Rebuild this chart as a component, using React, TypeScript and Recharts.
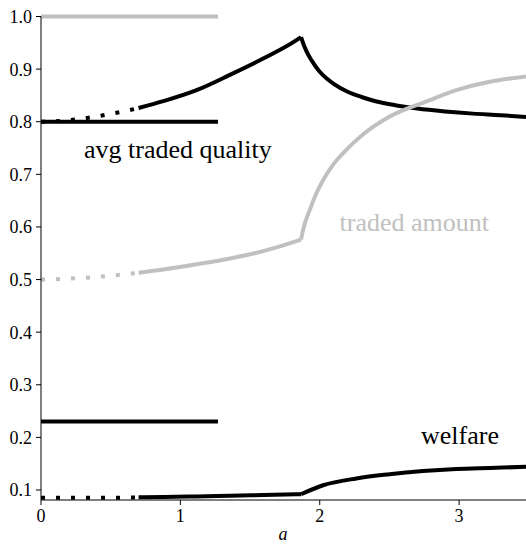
import { LineChart, Line, XAxis, YAxis } from "recharts";

// values (a on x, value on y)
const dotA = [0, 0.1, 0.2, 0.3, 0.4, 0.5, 0.6, 0.7];
const qualityDotV = [0.8, 0.801, 0.803, 0.806, 0.81, 0.815, 0.82, 0.826];
const amountDotV = [0.5, 0.5005, 0.502, 0.503, 0.505, 0.507, 0.51, 0.513];
const welfareDotV = [0.0852, 0.0852, 0.0852, 0.0853, 0.0853, 0.0854, 0.0855, 0.0856];

const riseA = [0.7, 0.877, 1.116, 1.355, 1.594, 1.833, 1.866];
const qualityRiseV = [0.826, 0.839, 0.86, 0.889, 0.92, 0.955, 0.961];
const amountRiseV = [0.513, 0.519, 0.529, 0.54, 0.554, 0.573, 0.576];
const welfareRiseV = [0.086, 0.0868, 0.0878, 0.0892, 0.0905, 0.0918, 0.092];

const qualityFallA = [1.866, 1.89, 1.92, 1.96, 2.0, 2.05, 2.1, 2.2, 2.3, 2.4, 2.55, 2.7, 2.9, 3.1, 3.3, 3.48];
const qualityFallV = [0.961, 0.943, 0.926, 0.909, 0.895, 0.882, 0.872, 0.857, 0.847, 0.839, 0.831, 0.825, 0.8195, 0.8154, 0.8124, 0.809];

const amountJumpA = [1.866, 1.88, 1.928, 1.976, 2.024, 2.095, 2.167, 2.263, 2.382, 2.502, 2.645, 2.74, 2.98, 3.219, 3.48];
const amountJumpV = [0.576, 0.594, 0.632, 0.664, 0.689, 0.718, 0.74, 0.765, 0.79, 0.81, 0.827, 0.836, 0.86, 0.876, 0.886];

const welfareJumpA = [1.866, 2.024, 2.263, 2.5, 2.74, 2.98, 3.219, 3.48];
const welfareJumpV = [0.092, 0.109, 0.122, 0.13, 0.136, 0.14, 0.142, 0.144];

// constant benchmark lines on the left
const constA = [0, 1.27];
const upperV = [1.0, 1.0];
const qualityConstV = [0.8, 0.8];
const welfareConstV = [0.23, 0.23];

const xTicks = [0, 1, 2, 3];
const xMinorTicks = [0.5, 1.5, 2.5];
const yTicks = [0.1, 0.2, 0.3, 0.4, 0.5, 0.6, 0.7, 0.8, 0.9, 1.0];
const yMinorTicks = [0.15, 0.25, 0.35, 0.45, 0.55, 0.65, 0.75, 0.85, 0.95];

const zip = (a: number[], v: number[]) => a.map((x, i) => ({ a: x, v: v[i] }));

const BLACK = "#000000";
const GRAY = "#c0c0c0";
const FONT = '"Liberation Serif", serif';
const DOTS = "4 11";

const series = [
  { id: "qConst", data: zip(constA, qualityConstV), color: BLACK, dash: undefined },
  { id: "wConst", data: zip(constA, welfareConstV), color: BLACK, dash: undefined },
  { id: "qDot", data: zip(dotA, qualityDotV), color: BLACK, dash: DOTS },
  { id: "qRise", data: zip(riseA, qualityRiseV), color: BLACK, dash: undefined },
  { id: "qFall", data: zip(qualityFallA, qualityFallV), color: BLACK, dash: undefined },
  { id: "wDot", data: zip(dotA, welfareDotV), color: BLACK, dash: DOTS },
  { id: "wRise", data: zip(riseA, welfareRiseV), color: BLACK, dash: undefined },
  { id: "wJump", data: zip(welfareJumpA, welfareJumpV), color: BLACK, dash: undefined },
  { id: "upper", data: zip(constA, upperV), color: GRAY, dash: undefined },
  { id: "aDot", data: zip(dotA, amountDotV), color: GRAY, dash: DOTS },
  { id: "aRise", data: zip(riseA, amountRiseV), color: GRAY, dash: undefined },
  { id: "aJump", data: zip(amountJumpA, amountJumpV), color: GRAY, dash: undefined },
];

export default function App() {
  const tickStyle = { fontSize: 18, fill: "#000", style: { fontFamily: FONT } };
  return (
    <div style={{ position: "absolute", left: 0, top: 0, width: 526, height: 544, background: "#fff", fontFamily: FONT }}>
      <LineChart width={526} height={544} margin={{ top: 16.5, right: 0, bottom: 14, left: 0 }}>
        {/* minor tick axes first so they sit on the main axes */}
        <XAxis
          xAxisId="minor"
          type="number"
          dataKey="a"
          domain={[0, 3.48]}
          allowDataOverflow
          ticks={xMinorTicks}
          height={0}
          tick={false}
          axisLine={false}
          tickSize={3}
          tickLine={{ stroke: "#000" }}
        />
        <YAxis
          yAxisId="minor"
          type="number"
          domain={[0.081, 1]}
          allowDataOverflow
          ticks={yMinorTicks}
          width={0}
          tick={false}
          axisLine={false}
          tickSize={3}
          tickLine={{ stroke: "#000" }}
        />
        <XAxis
          type="number"
          dataKey="a"
          domain={[0, 3.48]}
          ticks={xTicks}
          height={30}
          tickSize={5}
          tickMargin={4}
          tick={tickStyle}
          axisLine={{ stroke: "#000" }}
          tickLine={{ stroke: "#000" }}
        />
        <YAxis
          type="number"
          domain={[0.081, 1]}
          ticks={yTicks}
          width={41}
          tickSize={5}
          tickMargin={4}
          tick={tickStyle}
          tickFormatter={(v: number) => v.toFixed(1)}
          axisLine={{ stroke: "#000" }}
          tickLine={{ stroke: "#000" }}
        />
        {series.map((s) => (
          <Line
            key={s.id}
            data={s.data}
            dataKey="v"
            type="monotone"
            stroke={s.color}
            strokeWidth={4}
            strokeDasharray={s.dash}
            dot={false}
            activeDot={false}
            isAnimationActive={false}
          />
        ))}
      </LineChart>
      <svg
        width={526}
        height={544}
        style={{ position: "absolute", left: 0, top: 0, pointerEvents: "none" }}
      >
        <text x={84} y={158} style={{ fontFamily: FONT }} fontSize={26} fill="#000">
          avg traded quality
        </text>
        <text x={339.5} y={231} style={{ fontFamily: FONT }} fontSize={26} fill={GRAY}>
          traded amount
        </text>
        <text x={421} y={444} style={{ fontFamily: FONT }} fontSize={26} fill="#000">
          welfare
        </text>
        <text x={283} y={540} style={{ fontFamily: FONT }} fontSize={18} fontStyle="italic" textAnchor="middle" fill="#000">
          a
        </text>
      </svg>
    </div>
  );
}
